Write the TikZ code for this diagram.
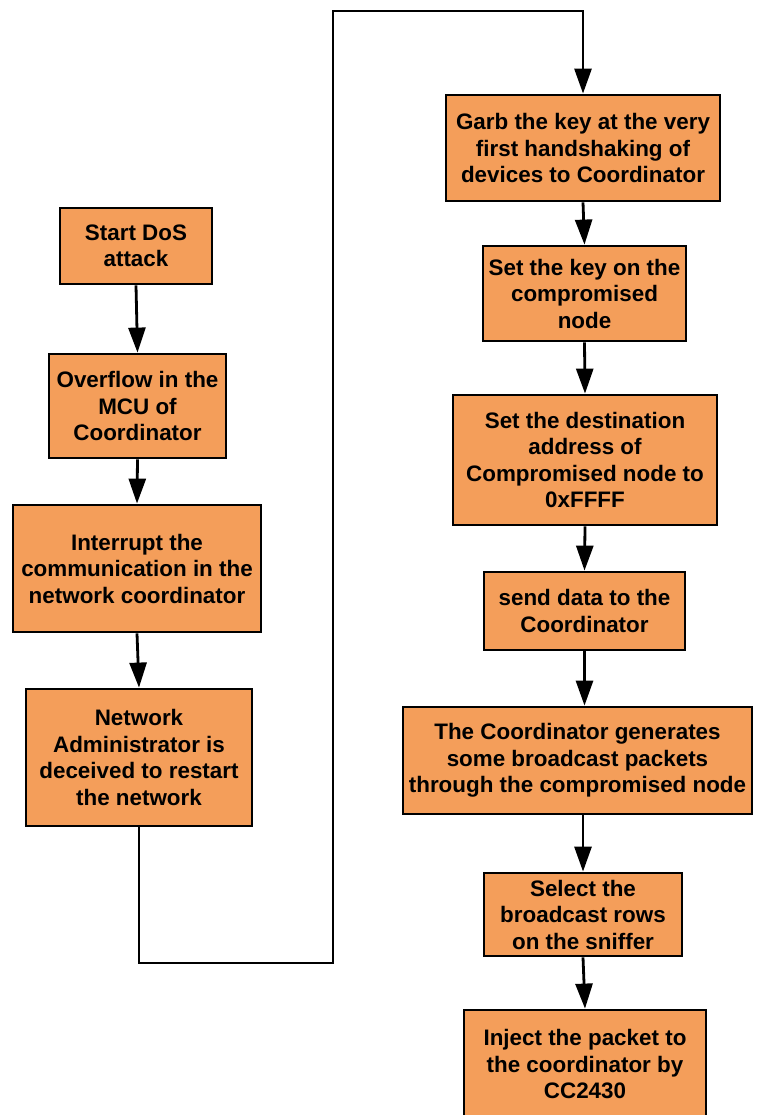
\documentclass[tikz,border=0pt]{standalone}
\usepackage{fontspec}
\setmainfont{Liberation Sans}
\usetikzlibrary{arrows.meta}
\definecolor{boxfill}{RGB}{244,158,90}
\tikzset{
  stepbox/.style={draw=black, line width=2.8pt, fill=boxfill, rectangle,
    inner sep=0pt, align=center, font=\bfseries\fontsize{22.4}{26.5}\selectfont},
  flow/.style={line width=2.8pt, line join=miter, -{Triangle[length=25pt,width=17pt]}}
}
\begin{document}
\begin{tikzpicture}[x=1pt,y=-1pt]
\useasboundingbox (0,0) rectangle (756,1115);
\clip (0,0) rectangle (756,1115);
% left column
\node[stepbox, minimum width=152, minimum height=76] (b1) at (136,246) {Start DoS\\attack};
\node[stepbox, minimum width=177, minimum height=104] (b2) at (137.5,406) {Overflow in the\\MCU of\\Coordinator};
\node[stepbox, minimum width=248, minimum height=127] (b3) at (137,568.5) {Interrupt the\\communication in the\\network coordinator};
\node[stepbox, minimum width=226, minimum height=137] (b4) at (139,757.5) {Network\\Administrator is\\deceived to restart\\the network};
% right column
\node[stepbox, minimum width=274, minimum height=106] (b5) at (583,148) {Garb the key at the very\\first handshaking of\\devices to Coordinator};
\node[stepbox, minimum width=203, minimum height=95] (b6) at (584.5,293.5) {Set the key on the\\compromised\\node};
\node[stepbox, minimum width=264, minimum height=130] (b7) at (585,460) {Set the destination\\address of\\Compromised node to\\0xFFFF};
\node[stepbox, minimum width=201, minimum height=78] (b8) at (584.5,611) {send data to the\\Coordinator};
\node[stepbox, minimum width=349, minimum height=107] (b9) at (577.5,760.5) {The Coordinator generates\\some broadcast packets\\through the compromised node};
\node[stepbox, minimum width=198, minimum height=83] (b10) at (583,914.5) {Select the\\broadcast rows\\on the sniffer};
\node[stepbox, minimum width=242, minimum height=108] (b11) at (585,1064) {Inject the packet to\\the coordinator by\\CC2430};
% connectors
\draw[flow] (b1.south) -- (b2.north);
\draw[flow] (b2.south) -- (b3.north);
\draw[flow] (b3.south) -- (b4.north);
\coordinate (c1) at (333,963);
\coordinate (c2) at (333,11);
\draw[flow] (b4.south) -- (b4.south |- c1) -- (c1) -- (c2) -- (c2 -| b5.north) -- (b5.north);
\draw[flow] (b5.south) -- (b6.north);
\draw[flow] (b6.south) -- (b7.north);
\draw[flow] (b7.south) -- (b8.north);
\draw[flow] (b8.south) -- (b8.south |- b9.north);
\draw[flow] (b9.south -| b10.north) -- (b10.north);
\draw[flow] (b10.south) -- (b11.north);
\end{tikzpicture}
\end{document}
